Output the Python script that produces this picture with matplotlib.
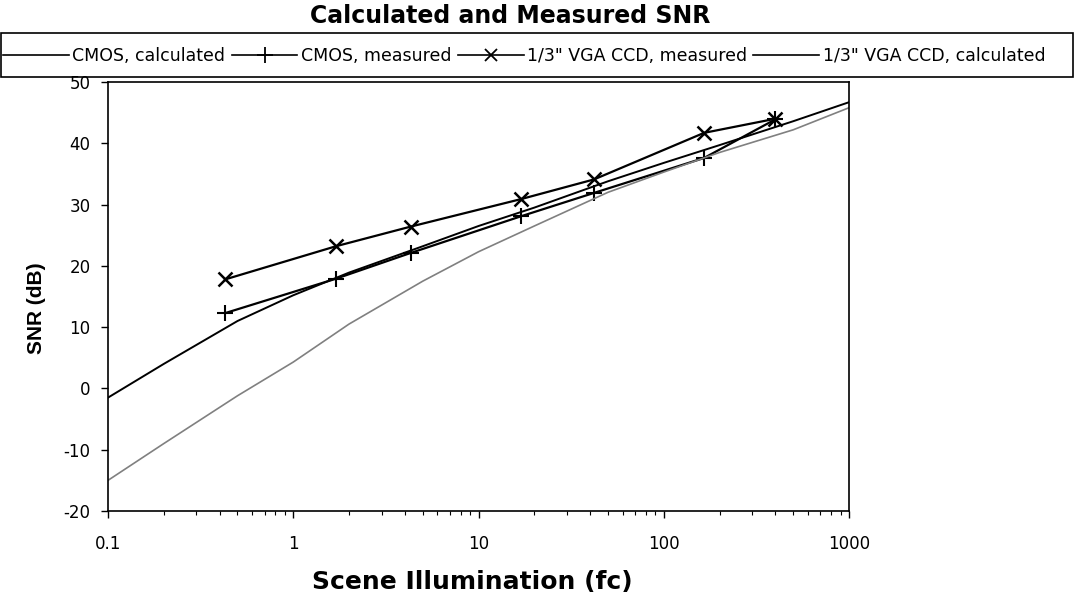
import matplotlib
matplotlib.use("Agg")
import matplotlib.pyplot as plt
from matplotlib.lines import Line2D
from matplotlib.patches import Rectangle

# ---- data ----
calc_x = [0.1, 0.2, 0.5, 1, 2, 5, 10, 20, 50, 100, 200, 500, 1000]
cmos_calc = [-1.5, 4.0, 11.0, 15.2, 18.9, 23.2, 26.5, 29.5, 33.8, 36.8, 39.7, 43.6, 46.7]
ccd_calc = [-15.0, -9.0, -1.2, 4.3, 10.5, 17.5, 22.3, 26.5, 32.0, 35.3, 38.5, 42.2, 45.8]

meas_x = [0.43, 1.7, 4.3, 17, 42, 165, 400]
cmos_meas = [12.3, 17.9, 22.1, 28.1, 31.9, 37.6, 43.9]
ccd_meas = [17.8, 23.2, 26.4, 30.9, 34.1, 41.7, 44.0]

labels = ["CMOS, calculated", "CMOS, measured",
          "1/3\" VGA CCD, measured", "1/3\" VGA CCD, calculated"]
x_ticks = [0.1, 1, 10, 100, 1000]
x_tick_labels = ["0.1", "1", "10", "100", "1000"]
y_ticks = [-20, -10, 0, 10, 20, 30, 40, 50]

title = "Calculated and Measured SNR"
xlabel = "Scene Illumination (fc)"
ylabel = "SNR (dB)"

plt.rcParams['font.family'] = ['DejaVu Sans']
plt.rcParams['axes.unicode_minus'] = False

W, H = 1075, 599
fig = plt.figure(figsize=(W / 100, H / 100), dpi=100)
ax = fig.add_axes([108 / W, 1 - 511 / H, 741 / W, 429 / H])

ax.plot(calc_x, cmos_calc, color='black', lw=1.4)
ax.plot(meas_x, cmos_meas, color='black', lw=1.6, marker='+', ms=12, mew=1.5)
ax.plot(meas_x, ccd_meas, color='black', lw=1.6, marker='x', ms=10, mew=1.8)
ax.plot(calc_x, ccd_calc, color='#808080', lw=1.2)

ax.set_xscale('log')
ax.set_xlim(0.1, 1000)
ax.set_ylim(-20, 50)
ax.set_xticks(x_ticks)
ax.set_xticklabels(x_tick_labels)
ax.set_yticks(y_ticks)
ax.tick_params(axis='both', which='major', labelsize=12, direction='out',
               length=5, width=1, pad=12)
ax.tick_params(axis='x', which='minor', direction='out', length=3, width=0.8)
ax.tick_params(axis='y', pad=7.5)
for s in ax.spines.values():
    s.set_linewidth(1.2)

ax.set_xlabel(xlabel, fontsize=18, fontweight='bold')
ax.set_ylabel(ylabel, fontsize=15, fontweight='bold', family='Liberation Sans')
ax.xaxis.set_label_coords((472 - 108) / 741, (511 - 570) / 429)
ax.yaxis.set_label_coords((46 - 108) / 741, (511 - 308) / 429)

fig.text(510 / W, 1 - 16 / H, title, ha='center', va='center',
         fontsize=17, fontweight='bold')

handles = [
    Line2D([], [], color='black', lw=1.2),
    Line2D([], [], color='black', lw=1.2, marker='+', ms=11, mew=1.3),
    Line2D([], [], color='black', lw=1.2, marker='x', ms=8, mew=1.3),
    Line2D([], [], color='black', lw=1.2),
]
fig.legend(handles, labels, loc='center left', bbox_to_anchor=(3 / W, 1 - 56 / H),
           ncol=4, frameon=False, fontsize=12.5, handlelength=3.8,
           handletextpad=0.2, columnspacing=0.35, borderpad=0, borderaxespad=0)
fig.patches.append(Rectangle((1 / W, 1 - 77 / H), 1072 / W, 44 / H,
                             transform=fig.transFigure, fill=False,
                             edgecolor='black', lw=1.2))

fig.savefig("out.png", dpi=100)
